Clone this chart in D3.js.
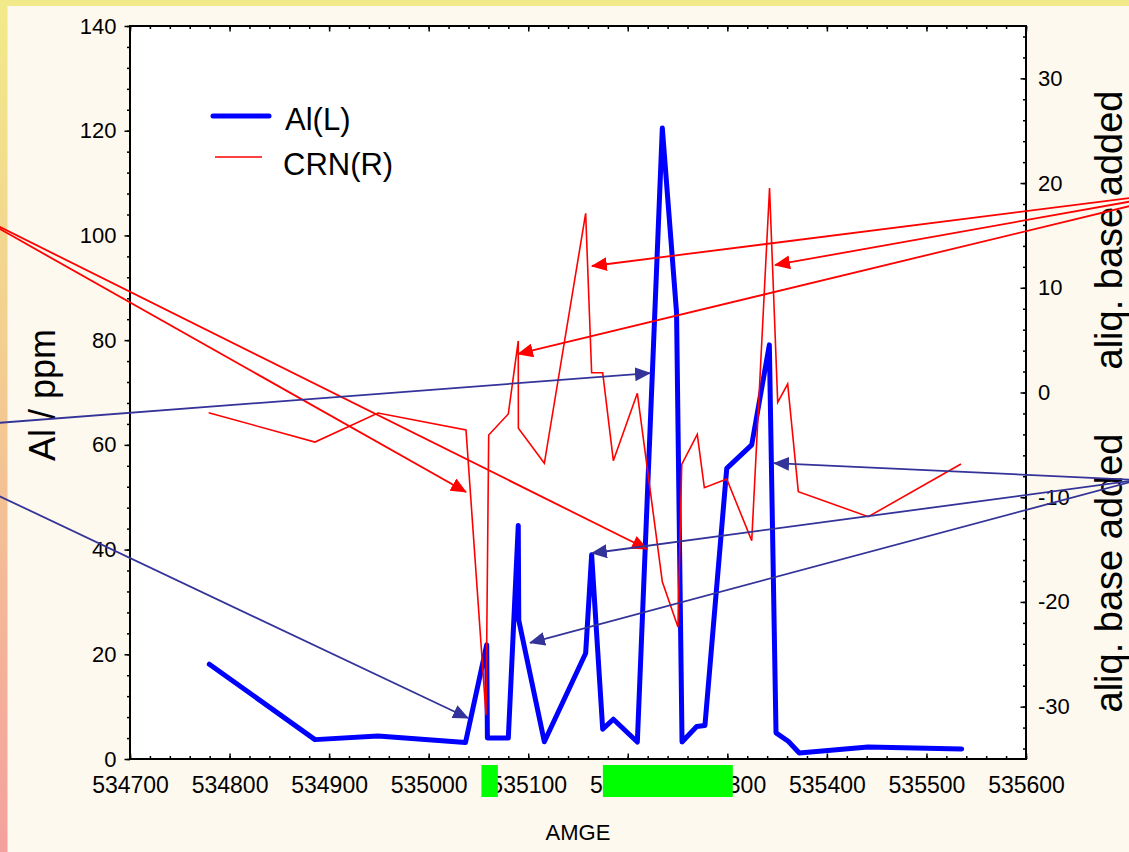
<!DOCTYPE html>
<html>
<head>
<meta charset="utf-8">
<script src="https://cdn.jsdelivr.net/npm/d3@7"></script>
<style>
  html, body { margin: 0; padding: 0; background: #FEF9EE; }
  svg { display: block; font-family: "Liberation Sans", Arial, sans-serif; }
</style>
</head>
<body>
<svg id="chart" width="1129" height="852"></svg>
<script>
// ---- data ----
const amgeTicks = [534700, 534800, 534900, 535000, 535100, 535200, 535300, 535400, 535500, 535600];
const alTicks = [0, 20, 40, 60, 80, 100, 120, 140];
const crnTicks = [-30, -20, -10, 0, 10, 20, 30];

// Al (left axis), ppm
const alAmge = [534779.7, 534885.8, 534949.1, 535037, 535058.3, 535059, 535080, 535090, 535090.5, 535116.2,
  535157.7, 535163.7, 535174.8, 535185.5, 535209.6, 535234.7, 535249, 535254.5, 535269.2, 535277.5,
  535299.4, 535324.5, 535342.2, 535348.9, 535361.2, 535372.3, 535441.3, 535535.4];
const alValues = [18.1, 3.7, 4.4, 3.15, 21.8, 4.0, 4.0, 44.6, 26.5, 3.3,
  20.2, 39.0, 5.7, 7.6, 3.25, 120.5, 85.2, 3.25, 6.2, 6.4,
  55.5, 60.0, 79.1, 5.0, 3.4, 1.15, 2.3, 1.9];

// CRN (right axis), aliquot base added
const crnAmge = [534779, 534885.8, 534949.1, 535037.5, 535057.6, 535060.3, 535080, 535090, 535090.1, 535116.2,
  535157.7, 535163.7, 535174.8, 535185.5, 535209.6, 535234.7, 535250.4, 535254.2, 535269.8, 535276.9,
  535299.4, 535324.5, 535342.4, 535350.6, 535360.6, 535371.3, 535441.6, 535534.7];
const crnValues = [-1.93, -4.73, -1.96, -3.58, -30.8, -4.06, -2.05, 4.92, -3.42, -6.76,
  17.11, 1.89, 1.89, -6.51, -0.08, -18.07, -22.4, -6.86, -3.99, -9.09,
  -8.26, -14.15, 19.53, -0.94, 0.81, -9.47, -11.86, -6.83];

// Callout arrows: [AMGE, value] start and end, red on the CRN axis, navy on the Al axis
const crnArrowFrom = [[534539, 17.24], [534539, 17.24], [535775, 19.43], [535775, 19.43], [535775, 19.43]];
const crnArrowTo = [[535037.5, -9.5], [535219.3, -14.95], [535164, 12.08], [535347.9, 12.18], [535089.7, 3.68]];
const alArrowFrom = [[534434.8, 62.27], [534434.8, 62.27], [535712.5, 53.29], [535712.5, 53.29], [535712.5, 53.29]];
const alArrowTo = [[535222.3, 73.7], [535039.5, 7.83], [535346.9, 56.5], [535164, 39.3], [535101.8, 22.2]];

// Highlighted AMGE intervals under the axis
const greenSpans = [[535053, 535069.5], [535175, 535305.5]];

const legendLabels = ["Al(L)", "CRN(R)"];

// ---- layout ----
const W = 1129, H = 852;
const plotL = 130, plotR = 1026, plotT = 26, plotB = 759;

const svg = d3.select("#chart");

// page background with coloured edge bands
const defs = svg.append("defs");
const grad = defs.append("linearGradient").attr("id", "edgeGrad")
  .attr("x1", 0).attr("y1", 0).attr("x2", 0).attr("y2", 1);
grad.append("stop").attr("offset", "0%").attr("stop-color", "#F2EA8A");
grad.append("stop").attr("offset", "50%").attr("stop-color", "#F3C892");
grad.append("stop").attr("offset", "100%").attr("stop-color", "#F4A09E");

svg.append("rect").attr("width", W).attr("height", H).attr("fill", "#FEF9EE");
svg.append("rect").attr("x", 0).attr("y", 0).attr("width", 7.5).attr("height", H).attr("fill", "url(#edgeGrad)");
svg.append("rect").attr("x", 0).attr("y", 0).attr("width", W).attr("height", 6).attr("fill", "#F2EA8A");

// arrow heads
function addMarker(id, color) {
  defs.append("marker").attr("id", id)
    .attr("viewBox", "0 0 16 14").attr("markerUnits", "userSpaceOnUse")
    .attr("markerWidth", 16).attr("markerHeight", 14)
    .attr("refX", 15).attr("refY", 7).attr("orient", "auto")
    .append("path").attr("d", "M0,0 L16,7 L0,14 Z").attr("fill", color);
}
addMarker("arrowRed", "#FF0000");
addMarker("arrowNavy", "#333399");

// scales
const x = d3.scaleLinear().domain([534700, 535600]).range([plotL, plotR]);
const yL = d3.scaleLinear().domain([0, 140]).range([plotB, plotT]);
const yR = d3.scaleLinear().domain([-35, 35]).range([plotB, plotT]);

// plot area
svg.append("rect").attr("x", plotL).attr("y", plotT).attr("width", plotR - plotL).attr("height", plotB - plotT)
  .attr("fill", "#FFFFFF");

function styleAxis(g, fontSize) {
  g.select(".domain").remove();
  g.selectAll(".tick line").attr("stroke", "#000").attr("stroke-width", 1.5);
  g.selectAll(".tick text").attr("fill", "#000").attr("font-size", fontSize)
    .attr("font-family", "Liberation Sans, Arial, sans-serif");
}

const plainNumber = d => String(d);

const minorX = d3.range(534700, 535601, 20);
const minorL = d3.range(0, 141, 4);
const minorR = d3.range(-34, 35, 2);

// minor ticks
svg.append("g").attr("transform", `translate(0,${plotB})`)
  .call(d3.axisBottom(x).tickValues(minorX).tickSizeInner(-3).tickSizeOuter(0).tickFormat(""))
  .call(g => styleAxis(g, 0));
svg.append("g").attr("transform", `translate(0,${plotT})`)
  .call(d3.axisTop(x).tickValues(minorX).tickSizeInner(-3).tickSizeOuter(0).tickFormat(""))
  .call(g => styleAxis(g, 0));
svg.append("g").attr("transform", `translate(${plotL},0)`)
  .call(d3.axisLeft(yL).tickValues(minorL).tickSizeInner(3).tickSizeOuter(0).tickFormat(""))
  .call(g => styleAxis(g, 0));
svg.append("g").attr("transform", `translate(${plotR},0)`)
  .call(d3.axisRight(yR).tickValues(minorR).tickSizeInner(-3).tickSizeOuter(0).tickFormat(""))
  .call(g => styleAxis(g, 0));

// major ticks and labels
svg.append("g").attr("transform", `translate(0,${plotB})`)
  .call(d3.axisBottom(x).tickValues(amgeTicks).tickSizeInner(-5.5).tickSizeOuter(0).tickPadding(18).tickFormat(plainNumber))
  .call(g => styleAxis(g, 23));
svg.append("g").attr("transform", `translate(0,${plotT})`)
  .call(d3.axisTop(x).tickValues(amgeTicks).tickSizeInner(-5.5).tickSizeOuter(0).tickFormat(""))
  .call(g => styleAxis(g, 0));
svg.append("g").attr("transform", `translate(${plotL},0)`)
  .call(d3.axisLeft(yL).tickValues(alTicks).tickSizeInner(5.5).tickSizeOuter(0).tickPadding(8).tickFormat(plainNumber))
  .call(g => styleAxis(g, 22));
svg.append("g").attr("transform", `translate(${plotR},0)`)
  .call(d3.axisRight(yR).tickValues(crnTicks).tickSizeInner(-5.5).tickSizeOuter(0).tickPadding(12).tickFormat(plainNumber))
  .call(g => styleAxis(g, 22));

// frame
svg.append("rect").attr("x", plotL).attr("y", plotT).attr("width", plotR - plotL).attr("height", plotB - plotT)
  .attr("fill", "none").attr("stroke", "#000").attr("stroke-width", 2);

// highlighted intervals
svg.append("g").selectAll("rect").data(greenSpans).join("rect")
  .attr("x", d => x(d[0])).attr("width", d => x(d[1]) - x(d[0]))
  .attr("y", plotB + 6).attr("height", 32).attr("fill", "#00FF00");

// Al series (thick blue)
const alData = alAmge.map((a, i) => [a, alValues[i]]);
svg.append("path").datum(alData)
  .attr("d", d3.line().x(d => x(d[0])).y(d => yL(d[1])))
  .attr("fill", "none").attr("stroke", "#0000FF").attr("stroke-width", 5)
  .attr("stroke-linejoin", "round").attr("stroke-linecap", "round");

// CRN series (thin red)
const crnData = crnAmge.map((a, i) => [a, crnValues[i]]);
svg.append("path").datum(crnData)
  .attr("d", d3.line().x(d => x(d[0])).y(d => yR(d[1])))
  .attr("fill", "none").attr("stroke", "#FF0000").attr("stroke-width", 1.6)
  .attr("stroke-linejoin", "miter");

// axis titles
svg.append("text").attr("transform", `translate(55,395) rotate(-90)`)
  .attr("text-anchor", "middle").attr("font-size", 36).attr("fill", "#000").text("Al / ppm");
svg.append("text").attr("x", (plotL + plotR) / 2).attr("y", 840)
  .attr("text-anchor", "middle").attr("font-size", 22).attr("fill", "#000").text("AMGE");
[230, 573].forEach(cy => {
  svg.append("text").attr("transform", `translate(1122,${cy}) rotate(-90)`)
    .attr("text-anchor", "middle").attr("font-size", 38).attr("fill", "#000").text("aliq. base added");
});

// legend
const legend = svg.append("g");
legend.append("line").attr("x1", 213).attr("x2", 269).attr("y1", 116).attr("y2", 116)
  .attr("stroke", "#0000FF").attr("stroke-width", 5).attr("stroke-linecap", "round");
legend.append("text").attr("x", 285).attr("y", 130).attr("font-size", 31).attr("fill", "#000").text(legendLabels[0]);
legend.append("line").attr("x1", 215).attr("x2", 262).attr("y1", 157).attr("y2", 157)
  .attr("stroke", "#FF0000").attr("stroke-width", 1.6);
legend.append("text").attr("x", 283).attr("y", 175).attr("font-size", 31).attr("fill", "#000").text(legendLabels[1]);

// callout arrows
const arrows = svg.append("g");
crnArrowFrom.forEach((f, i) => {
  const t = crnArrowTo[i];
  arrows.append("line")
    .attr("x1", x(f[0])).attr("y1", yR(f[1])).attr("x2", x(t[0])).attr("y2", yR(t[1]))
    .attr("stroke", "#FF0000").attr("stroke-width", 1.8).attr("marker-end", "url(#arrowRed)");
});
alArrowFrom.forEach((f, i) => {
  const t = alArrowTo[i];
  arrows.append("line")
    .attr("x1", x(f[0])).attr("y1", yL(f[1])).attr("x2", x(t[0])).attr("y2", yL(t[1]))
    .attr("stroke", "#333399").attr("stroke-width", 1.8).attr("marker-end", "url(#arrowNavy)");
});
</script>
</body>
</html>
